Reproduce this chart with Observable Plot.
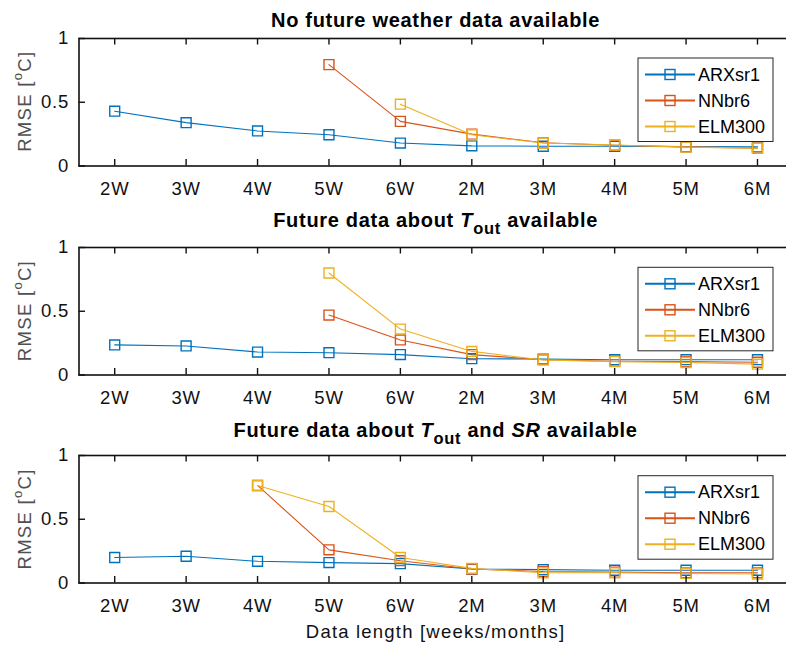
<!DOCTYPE html>
<html><head><meta charset="utf-8">
<script src="https://cdn.jsdelivr.net/npm/d3@7"></script>
<script src="https://cdn.jsdelivr.net/npm/@observablehq/plot@0.6"></script>
<style>
html,body{margin:0;padding:0;background:#fff;overflow:hidden}
#page{position:relative;width:786px;height:646px;overflow:hidden;background:#fff}
#overlay{position:absolute;left:0;top:0}
</style></head><body><div id="page"></div>
<script>
// ---- data ----
const labels = ["2W","3W","4W","5W","6W","2M","3M","4M","5M","6M"];
const models = ["ARXsr1","NNbr6","ELM300"];
const colors = ["#0072BD","#D95319","#EDB120"];
const yTicks = [0, 0.5, 1];

// Panel 1: no future weather data
const arx1 = [0.43,0.34,0.275,0.245,0.18,0.158,0.155,0.155,0.152,0.15];
const nn1  = [null,null,null,0.795,0.35,0.25,0.182,0.163,0.15,0.14];
const elm1 = [null,null,null,null,0.485,0.245,0.18,0.165,0.148,0.14];
// Panel 2: future Tout
const arx2 = [0.236,0.228,0.18,0.175,0.16,0.128,0.125,0.12,0.12,0.12];
const nn2  = [null,null,null,0.47,0.275,0.16,0.12,0.108,0.105,0.1];
const elm2 = [null,null,null,0.8,0.36,0.185,0.118,0.105,0.098,0.085];
// Panel 3: future Tout and SR
const arx3 = [0.2,0.21,0.17,0.16,0.152,0.11,0.105,0.1,0.1,0.1];
const nn3  = [null,null,0.765,0.26,0.175,0.11,0.09,0.085,0.08,0.08];
const elm3 = [null,null,0.765,0.6,0.2,0.115,0.08,0.08,0.075,0.07];

const titles = [
  [{t:"No future weather data available"}],
  [{t:"Future data about "},{t:"T",i:true},{t:"out",sub:true},{t:" available",back:true}],
  [{t:"Future data about "},{t:"T",i:true},{t:"out",sub:true},{t:" and ",back:true},{t:"SR",i:true},{t:" available"}]
];
const xTitle = "Data length [weeks/months]";

// ---- layout ----
const page = document.getElementById("page");
const ML = 78.5, MR = 7.3, W = 800, MT = 10, HP = 127.5, MB = 40;
const TICK = 6.5;
const panels = [
  {series:[arx1,nn1,elm1], top:37.5, titleY:27.3},
  {series:[arx2,nn2,elm2], top:246.8, titleY:226.7},
  {series:[arx3,nn3,elm3], top:455.2, titleY:436.7}
];
const idx = labels.map((d,i)=>i+1);
const font = "'Liberation Sans', Arial, Helvetica, sans-serif";
const plotW = W - ML - MR;

panels.forEach(p => {
  const rows = [];
  models.forEach((m,k) => p.series[k].forEach((v,i) => { if (v != null) rows.push({model:m, x:i+1, y:v}); }));
  const svg = Plot.plot({
    width: W, height: MT + HP + MB,
    marginLeft: ML, marginRight: MR, marginTop: MT, marginBottom: MB,
    x: {domain: [0.5, 10.5]},
    y: {domain: [0, 1]},
    color: {domain: models, range: colors},
    style: {fontFamily: font, fontSize: "18.5px", letterSpacing: "0.8px", color: "#111", background: "transparent", maxWidth: "none"},
    marks: [
      Plot.line(rows, {x:"x", y:"y", z:"model", stroke:"model", strokeWidth:1.1}),
      Plot.dot(rows, {x:"x", y:"y", stroke:"model", symbol:"square", r:5.6, strokeWidth:1.4, fill:"none"}),
      // inward tick marks (bottom, top, left)
      Plot.ruleX(idx, {x: d => d, insetTop: HP - TICK, stroke: "#111", strokeWidth: 1.4}),
      Plot.ruleX(idx, {x: d => d, insetBottom: HP - TICK, stroke: "#111", strokeWidth: 1.4}),
      Plot.ruleY(yTicks, {y: d => d, insetRight: plotW - TICK, stroke: "#111", strokeWidth: 1.4}),
      Plot.frame({stroke:"#111", strokeWidth:1.6}),
      Plot.axisX({ticks: idx, tickFormat: i => labels[i-1], tickSize: 0, tickPadding: 16, label: null}),
      Plot.axisY({ticks: yTicks, tickFormat: d => String(d), tickSize: 0, tickPadding: 10, label: null})
    ]
  });
  svg.style.position = "absolute";
  svg.style.left = "0px";
  svg.style.top = (p.top - MT) + "px";
  svg.style.maxWidth = "none";
  svg.style.width = W + "px";
  page.append(svg);
});

// ---- overlay: titles, axis labels, legends ----
const ov = d3.select(page).append("svg").attr("id","overlay")
  .attr("width",786).attr("height",646)
  .style("font-family", font);

const cx = (ML + (W - MR)) / 2;
panels.forEach((p, k) => {
  const t = ov.append("text").attr("x", cx).attr("y", p.titleY)
    .attr("text-anchor","middle").attr("font-weight","bold")
    .attr("font-size", 20).attr("letter-spacing", "0.7px").attr("fill","#000");
  titles[k].forEach(s => {
    const ts = t.append("tspan").text(s.t);
    if (s.i) ts.attr("font-style","italic");
    if (s.sub) ts.attr("font-size", 16.5).attr("dy", 7);
    if (s.back) ts.attr("dy", -7);
  });

  // y label
  const yl = ov.append("text")
    .attr("transform", `translate(24,${p.top + HP/2}) rotate(-90)`)
    .attr("text-anchor","middle").attr("dominant-baseline","central")
    .attr("font-size", 18.5).attr("letter-spacing","1.3px").attr("fill","#505050");
  yl.append("tspan").text("RMSE [");
  yl.append("tspan").text("o").attr("font-size", 13).attr("dy", -7);
  yl.append("tspan").text("C]").attr("dy", 7);

  // legend
  const g = ov.append("g").attr("transform", `translate(638,${p.top + 20.5})`);
  g.append("rect").attr("width",135).attr("height",83.5)
    .attr("fill","#fff").attr("stroke","#262626").attr("stroke-width",1);
  models.forEach((m, j) => {
    const yy = 16.5 + j * 26;
    g.append("line").attr("x1",7).attr("x2",57).attr("y1",yy).attr("y2",yy)
      .attr("stroke", colors[j]).attr("stroke-width", 2);
    g.append("rect").attr("x",27).attr("y",yy-5).attr("width",10).attr("height",10)
      .attr("fill","none").attr("stroke", colors[j]).attr("stroke-width",1.4);
    g.append("text").attr("x",60).attr("y",yy).attr("dominant-baseline","central")
      .attr("font-size",18).attr("fill","#000").text(m);
  });
});

ov.append("text").attr("x", cx).attr("y", 638.3).attr("text-anchor","middle")
  .attr("font-size", 18.5).attr("letter-spacing","1.2px").attr("fill","#111").text(xTitle);
</script>
</body></html>
